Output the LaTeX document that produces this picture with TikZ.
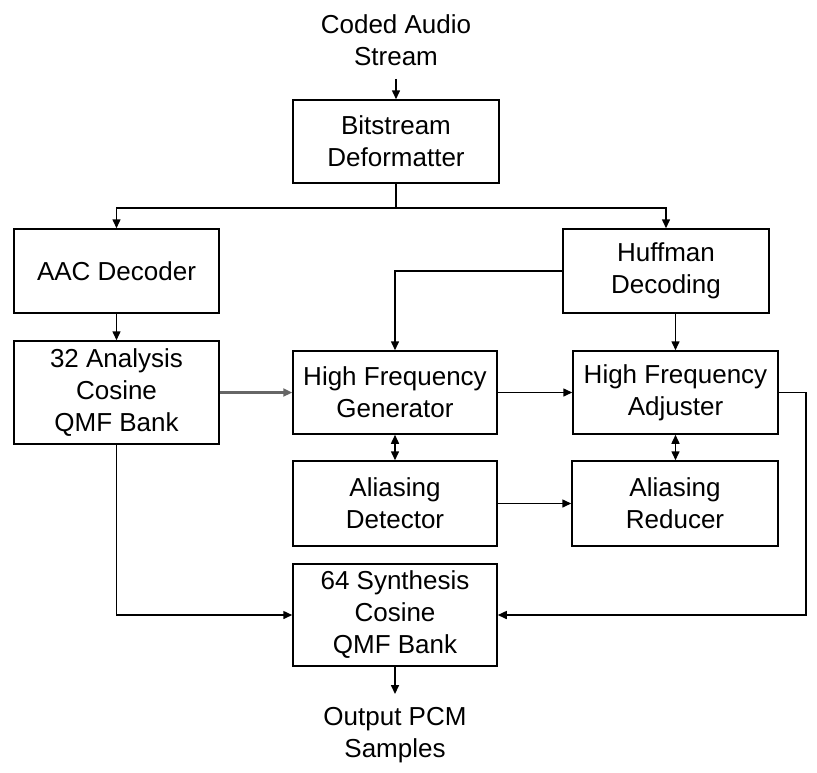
\documentclass[tikz,border=0pt]{standalone}
\usepackage{fontspec}
\setmainfont{Liberation Sans}
\usetikzlibrary{arrows.meta}
\begin{document}
\begin{tikzpicture}[x=1pt,y=-1pt,
  box/.style={draw, line width=1.5pt, align=center, inner sep=0pt, font=\fontsize{26}{32}\selectfont},
  lbl/.style={align=center, inner xsep=0pt, inner ysep=13pt, font=\fontsize{26}{32}\selectfont},
  arr/.style={line width=1.5pt, -{Triangle[length=9pt,width=8pt]}},
  darr/.style={line width=1.5pt, {Triangle[length=9pt,width=8pt]}-{Triangle[length=9pt,width=8pt]}},
  ln/.style={line width=1.5pt}]
\useasboundingbox (0,0) rectangle (817,772);
\fill[white] (0,0) rectangle (817,772);

\node[lbl] (stream) at (396,40) {Coded Audio\\Stream};
\node[box, minimum width=206pt, minimum height=83pt] (bits) at (396,141.5) {Bitstream\\Deformatter};
\node[box, minimum width=205pt, minimum height=84pt] (aac) at (116.5,271) {AAC Decoder};
\node[box, minimum width=206pt, minimum height=84pt] (huff) at (666,271) {Huffman\\Decoding};
\node[box, minimum width=205pt, minimum height=103pt] (ana) at (116.5,392.5) {32 Analysis\\Cosine\\QMF Bank};
\node[box, minimum width=204pt, minimum height=83pt] (hfg) at (395,392.5) {High Frequency\\Generator};
\node[box, minimum width=205pt, minimum height=83pt] (hfa) at (675.5,392.5) {High Frequency\\Adjuster};
\node[box, minimum width=204pt, minimum height=85pt] (det) at (395,503.5) {Aliasing\\Detector};
\node[box, minimum width=206pt, minimum height=85pt] (red) at (675,503.5) {Aliasing\\Reducer};
\node[box, minimum width=204pt, minimum height=102pt] (syn) at (395,615) {64 Synthesis\\Cosine\\QMF Bank};
\node[lbl] (out) at (395,735) {Output PCM\\Samples};

\coordinate (split) at (396,208);
\coordinate (rt) at (806,392.5);

\draw[arr] (stream.south) -- (stream.south |- bits.north);
\draw[ln] (bits.south) -- (split);
\draw[arr] (split) -| (aac.north);
\draw[arr] (split) -| (huff.north);
\draw[arr] (aac) -- (ana);
\draw[arr, line width=2.2pt, draw=black!60, fill=black!60] (ana) -- (hfg);
\draw[arr] (huff.west) -| (hfg.north);
\draw[arr] (hfa.north |- huff.south) -- (hfa.north);
\draw[arr] (hfg) -- (hfa);
\draw[darr] (hfg) -- (det);
\draw[darr] (hfa.south) -- (hfa.south |- red.north);
\draw[arr] (det) -- (red);
\draw[arr] (ana.south) |- (syn.west);
\draw[arr] (hfa.east) -- (rt) |- (syn.east);
\draw[arr] (syn.south) -- (syn.south |- out.north);
\end{tikzpicture}
\end{document}
